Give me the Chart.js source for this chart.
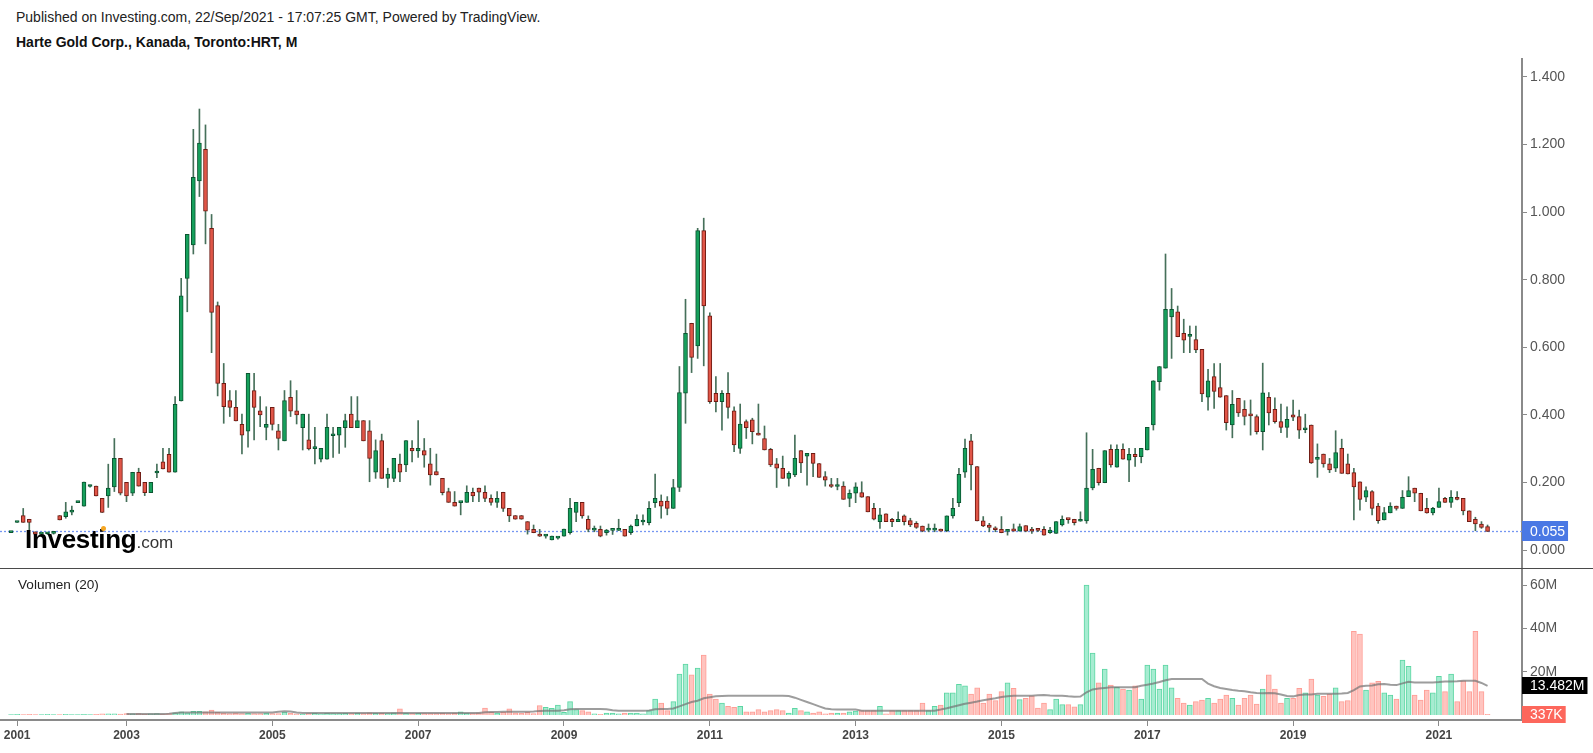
<!DOCTYPE html>
<html><head><meta charset="utf-8">
<script src="https://cdn.jsdelivr.net/npm/chart.js@4.4.0/dist/chart.umd.min.js"></script>
<style>
html,body{margin:0;padding:0;background:#fff;width:1593px;height:753px;overflow:hidden;font-family:"Liberation Sans",Arial,Helvetica,sans-serif;}
.abs{position:absolute;white-space:nowrap;}
#h1{left:16px;top:9px;font-size:14px;line-height:16px;color:#222;}
#h2{left:16px;top:34px;font-size:14px;line-height:16px;font-weight:bold;color:#111;}
#pwrap{position:absolute;left:0;top:58px;width:1593px;height:511px;}
#vwrap{position:absolute;left:0;top:569px;width:1593px;height:184px;}
#sep{position:absolute;left:0;top:568px;width:1593px;height:1px;background:#4a4a4a;}
#vlabel{left:18px;top:577px;font-size:13.6px;line-height:16px;color:#222;}
#logo{left:25px;top:526px;font-size:26px;line-height:26px;font-weight:bold;color:#000;letter-spacing:-0.3px;}
#logo span{font-size:17px;font-weight:normal;color:#333;letter-spacing:0;}
#dot{position:absolute;left:101px;top:526px;width:5px;height:5px;border-radius:50%;background:#f5a623;}
</style>
</head>
<body>
<div class="abs" id="h1">Published on Investing.com, 22/Sep/2021 - 17:07:25 GMT, Powered by TradingView.</div>
<div class="abs" id="h2">Harte Gold Corp., Kanada, Toronto:HRT, M</div>
<div id="pwrap"><canvas id="price" width="1593" height="511"></canvas></div>
<div id="vwrap"><canvas id="vol" width="1593" height="184"></canvas></div>
<div id="sep"></div>
<div class="abs" id="vlabel">Volumen (20)</div>
<div class="abs" id="logo">Investing<span>.com</span></div>
<div id="dot"></div>
<script>
// ---------- DATA ----------
const months = [
"2001-06","2001-07","2001-08","2001-09","2001-10","2001-11","2001-12",
"2002-01","2002-02","2002-03","2002-04","2002-05","2002-06","2002-07","2002-08","2002-09","2002-10","2002-11","2002-12",
"2003-01","2003-02","2003-03","2003-04","2003-05","2003-06","2003-07","2003-08","2003-09","2003-10","2003-11","2003-12",
"2004-01","2004-02","2004-03","2004-04","2004-05","2004-06","2004-07","2004-08","2004-09","2004-10","2004-11","2004-12",
"2005-01","2005-02","2005-03","2005-04","2005-05","2005-06","2005-07","2005-08","2005-09","2005-10","2005-11","2005-12",
"2006-01","2006-02","2006-03","2006-04","2006-05","2006-06","2006-07","2006-08","2006-09","2006-10","2006-11","2006-12",
"2007-01","2007-02","2007-03","2007-04","2007-05","2007-06","2007-07","2007-08","2007-09","2007-10","2007-11","2007-12",
"2008-01","2008-02","2008-03","2008-04","2008-05","2008-06","2008-07","2008-08","2008-09","2008-10","2008-11","2008-12",
"2009-01","2009-02","2009-03","2009-04","2009-05","2009-06","2009-07","2009-08","2009-09","2009-10","2009-11","2009-12",
"2010-01","2010-02","2010-03","2010-04","2010-05","2010-06","2010-07","2010-08","2010-09","2010-10","2010-11","2010-12",
"2011-01","2011-02","2011-03","2011-04","2011-05","2011-06","2011-07","2011-08","2011-09","2011-10","2011-11","2011-12",
"2012-01","2012-02","2012-03","2012-04","2012-05","2012-06","2012-07","2012-08","2012-09","2012-10","2012-11","2012-12",
"2013-01","2013-02","2013-03","2013-04","2013-05","2013-06","2013-07","2013-08","2013-09","2013-10","2013-11","2013-12",
"2014-01","2014-02","2014-03","2014-04","2014-05","2014-06","2014-07","2014-08","2014-09","2014-10","2014-11","2014-12",
"2015-01","2015-02","2015-03","2015-04","2015-05","2015-06","2015-07","2015-08","2015-09","2015-10","2015-11","2015-12",
"2016-01","2016-02","2016-03","2016-04","2016-05","2016-06","2016-07","2016-08","2016-09","2016-10","2016-11","2016-12",
"2017-01","2017-02","2017-03","2017-04","2017-05","2017-06","2017-07","2017-08","2017-09","2017-10","2017-11","2017-12",
"2018-01","2018-02","2018-03","2018-04","2018-05","2018-06","2018-07","2018-08","2018-09","2018-10","2018-11","2018-12",
"2019-01","2019-02","2019-03","2019-04","2019-05","2019-06","2019-07","2019-08","2019-09","2019-10","2019-11","2019-12",
"2020-01","2020-02","2020-03","2020-04","2020-05","2020-06","2020-07","2020-08","2020-09","2020-10","2020-11","2020-12",
"2021-01","2021-02","2021-03","2021-04","2021-05","2021-06","2021-07","2021-08","2021-09"
];

const open = [
.0515,.0815,.102,.091,.054,.047,.048,
.049,.102,.099,.112,.140,.130,.188,.189,.153,.160,.187,.271,
.200,.168,.230,.200,.170,.228,.261,.283,.230,.441,.804,.903,
1.092,1.186,.952,.723,.493,.442,.422,.372,.352,.472,.412,.363,
.422,.353,.323,.452,.412,.362,.326,.300,.269,.269,.338,.340,
.362,.402,.362,.383,.353,.230,.324,.212,.212,.254,.252,.301,
.293,.294,.255,.232,.212,.173,.141,.140,.141,.171,.183,.171,
.153,.141,.171,.123,.102,.102,.084,.061,.042,.041,.030,.035,
.041,.051,.111,.141,.091,.059,.061,.051,.058,.058,.061,.051,
.071,.083,.081,.140,.145,.145,.123,.185,.464,.671,.604,.945,
.693,.464,.439,.464,.412,.301,.380,.385,.345,.330,.298,.255,
.242,.212,.222,.294,.278,.286,.256,.217,.190,.188,.189,.153,
.168,.170,.158,.123,.084,.107,.091,.084,.101,.087,.079,.071,
.059,.059,.062,.057,.101,.140,.230,.323,.247,.086,.074,.062,
.061,.055,.063,.056,.072,.061,.059,.061,.051,.049,.074,.091,
.091,.085,.086,.184,.242,.199,.298,.245,.298,.266,.283,.276,
.296,.370,.498,.538,.690,.705,.641,.632,.623,.594,.452,.513,
.481,.457,.370,.449,.416,.402,.395,.350,.452,.416,.380,.363,
.400,.395,.356,.370,.268,.284,.255,.242,.301,.255,.229,.202,
.156,.173,.130,.089,.110,.130,.123,.158,.183,.168,.123,.110,
.126,.153,.141,.156,.153,.116,.091,.077,.069
];
const high = [
.0525,.0825,.123,.091,.054,.050,.052,
.053,.102,.141,.130,.142,.201,.192,.189,.153,.254,.330,.271,
.200,.230,.242,.200,.200,.254,.301,.301,.454,.804,.934,1.245,
1.305,1.258,.993,.734,.552,.472,.472,.402,.523,.523,.454,.424,
.422,.372,.472,.501,.472,.402,.402,.363,.301,.402,.363,.363,
.402,.454,.454,.383,.383,.326,.343,.242,.271,.284,.324,.324,
.383,.330,.301,.284,.212,.183,.173,.142,.190,.183,.183,.190,
.163,.173,.171,.123,.102,.102,.084,.074,.061,.045,.041,.038,
.062,.153,.141,.141,.101,.071,.071,.061,.059,.091,.061,.074,
.104,.104,.143,.225,.163,.158,.209,.543,.742,.671,.952,.982,
.702,.513,.472,.525,.424,.432,.385,.390,.432,.367,.301,.271,
.278,.232,.340,.294,.286,.286,.256,.232,.212,.212,.202,.178,
.199,.202,.158,.138,.123,.107,.094,.113,.104,.094,.084,.071,
.077,.077,.062,.101,.153,.242,.328,.342,.247,.099,.079,.069,
.099,.061,.077,.077,.072,.067,.061,.069,.067,.084,.101,.091,
.091,.113,.347,.298,.242,.294,.311,.311,.314,.301,.301,.301,
.363,.501,.543,.876,.774,.722,.683,.663,.663,.594,.535,.552,
.552,.457,.472,.449,.442,.444,.400,.553,.466,.450,.432,.424,
.444,.414,.402,.370,.314,.284,.271,.353,.328,.284,.242,.202,
.187,.176,.138,.126,.140,.130,.176,.217,.183,.168,.153,.126,
.183,.156,.176,.173,.153,.116,.097,.084,.074
];
const low = [
.0515,.0815,.082,.059,.044,.045,.046,
.047,.089,.094,.104,.140,.130,.186,.160,.111,.126,.173,.163,
.143,.161,.189,.161,.170,.214,.240,.230,.230,.441,.705,.876,
1.046,.906,.584,.456,.375,.395,.382,.284,.304,.326,.365,.326,
.355,.296,.323,.395,.373,.296,.296,.255,.261,.269,.274,.286,
.304,.362,.362,.323,.202,.212,.212,.185,.202,.202,.232,.261,
.274,.245,.192,.222,.163,.141,.130,.104,.141,.143,.143,.143,
.133,.126,.114,.084,.091,.091,.047,.051,.040,.035,.030,.032,
.041,.047,.084,.094,.054,.054,.039,.044,.046,.058,.041,.046,
.071,.074,.074,.126,.094,.104,.123,.173,.375,.525,.567,.545,
.434,.409,.355,.390,.291,.286,.330,.314,.340,.296,.247,.185,
.212,.189,.217,.229,.192,.217,.215,.189,.185,.178,.150,.128,
.140,.156,.113,.089,.064,.084,.069,.084,.074,.069,.064,.054,
.054,.054,.056,.054,.094,.128,.215,.178,.086,.069,.054,.054,
.051,.044,.056,.056,.054,.049,.054,.044,.049,.049,.071,.079,
.074,.085,.079,.178,.192,.199,.245,.245,.269,.202,.247,.258,
.296,.355,.473,.538,.567,.631,.584,.584,.584,.439,.414,.419,
.452,.355,.332,.395,.370,.340,.343,.296,.370,.375,.347,.333,
.383,.330,.347,.256,.215,.245,.229,.232,.227,.225,.089,.118,
.143,.104,.079,.089,.110,.118,.123,.158,.143,.116,.109,.104,
.126,.141,.126,.148,.104,.084,.057,.064,.055
];
const close = [
.0525,.0825,.082,.082,.047,.048,.050,
.052,.089,.113,.114,.142,.201,.190,.160,.111,.183,.271,.168,
.160,.230,.189,.170,.200,.232,.240,.230,.431,.752,.934,1.103,
1.204,1.003,.703,.493,.424,.422,.382,.340,.523,.422,.400,.372,
.372,.330,.442,.411,.400,.402,.299,.301,.301,.363,.342,.363,
.383,.362,.383,.323,.271,.294,.212,.225,.271,.230,.324,.293,
.301,.281,.222,.222,.170,.141,.130,.142,.171,.160,.171,.153,
.141,.153,.123,.101,.091,.091,.059,.051,.041,.042,.041,.036,
.062,.123,.141,.101,.061,.060,.041,.059,.059,.060,.041,.071,
.091,.085,.123,.153,.130,.123,.185,.466,.641,.570,.945,.722,
.439,.439,.464,.422,.311,.373,.362,.350,.340,.296,.252,.242,
.212,.227,.271,.258,.286,.256,.215,.207,.188,.190,.150,.168,
.187,.156,.113,.091,.104,.084,.084,.091,.084,.074,.067,.056,
.060,.060,.056,.101,.123,.224,.301,.252,.086,.071,.067,.060,
.051,.057,.056,.069,.056,.056,.058,.044,.059,.084,.091,.090,
.081,.086,.183,.239,.199,.294,.252,.298,.269,.283,.276,.301,
.363,.501,.543,.712,.712,.631,.621,.634,.592,.462,.501,.469,
.452,.377,.431,.406,.395,.397,.350,.465,.406,.380,.363,.387,
.393,.355,.358,.258,.270,.255,.237,.288,.227,.225,.187,.150,
.176,.123,.087,.111,.130,.123,.156,.176,.168,.116,.110,.123,
.143,.141,.156,.150,.116,.084,.077,.067,.055
];
// volume in millions
const volume = [
.2,.3,.2,.3,.2,.2,.3,
.2,.2,.3,.2,.2,.3,.2,.3,.5,.5,.5,.4,
.6,.5,.7,.4,.5,.6,.4,.6,1.0,1.5,1.0,1.7,
1.7,1.5,2.3,1.2,.8,.7,.9,.6,.8,.7,.6,.9,
.7,.6,1.4,.8,.5,.3,.7,.9,.5,.8,.6,.7,
.8,.6,.9,.7,1.0,.8,.9,.6,1.0,2.8,.9,.7,
.8,.6,.7,.6,.8,.7,.9,1.5,.8,.7,1.0,3.2,
1.2,.9,1.2,2.8,1.0,.8,1.2,.6,4.3,3.5,3.1,4.6,
1.2,6.2,2.5,2.0,1.5,.5,.3,.9,.9,.5,.9,.9,
.9,.5,2.0,7.4,5.5,2.0,6.2,18.9,23.5,18.5,21.7,27.7,
9.7,7.4,5.5,4.0,3.5,4.0,1.5,1.5,2.5,1.5,2.0,2.5,
2.0,.9,3.1,2.0,1.5,.9,1.5,.5,.9,.9,.9,1.5,
1.8,2.0,2.0,2.0,4.0,.5,2.0,2.0,2.0,2.0,2.0,5.5,
2.0,4.0,4.6,10.2,10.2,14.2,13.5,9.7,12.5,5.5,9.7,6.6,
10.8,14.8,12.3,7.1,7.7,8.9,3.2,5.5,2.5,7.4,4.8,4.8,
3.8,4.8,60.0,28.6,14.8,21.2,13.8,12.8,12.0,11.5,13.5,7.4,
23.0,21.2,12.0,23.0,12.5,7.7,5.5,4.6,6.2,6.9,7.7,5.5,
7.4,9.2,7.7,4.6,7.7,9.2,5.0,12.0,18.5,12.0,5.5,7.7,
7.7,12.3,10.2,16.6,9.2,8.6,9.7,12.5,6.2,6.6,38.6,37.4,
11.5,14.8,15.5,10.2,9.2,7.4,25.4,22.5,9.2,6.9,11.5,10.2,
17.8,10.8,18.9,6.2,15.8,10.8,38.6,10.8,0.337
];
// 20-period volume average (millions)
const volumeMA = [
null,null,null,null,null,null,null,
null,null,null,null,null,null,null,null,null,null,null,null,
.5,.5,.5,.5,.5,.5,.5,.6,.9,1.2,1.2,1.2,
1.2,1.2,1.2,1.2,1.2,1.2,1.2,1.1,1.1,1.1,1.1,1.1,
1.2,1.5,1.7,1.6,1.2,.9,.9,.9,.9,.9,.9,.9,
.9,.9,.9,.9,.9,.9,.9,.9,.9,.9,.9,.9,
.9,.9,.9,.9,.9,.9,.9,.9,.9,.9,.9,1.3,
1.4,1.4,1.5,1.5,1.5,1.5,1.5,1.6,1.9,2.0,2.0,2.0,
2.2,2.6,2.8,2.8,2.8,2.8,2.8,2.7,2.2,2.0,2.0,2.0,
2.0,2.0,2.1,2.6,2.8,2.8,3.0,4.0,5.0,6.0,6.6,7.7,
8.2,8.6,8.8,8.9,8.9,8.9,8.9,8.9,8.9,8.9,8.9,8.9,
8.9,8.8,8.0,7.0,6.0,5.0,4.0,3.0,2.6,2.5,2.5,2.5,
2.5,2.0,2.0,2.0,2.0,2.0,2.0,2.0,2.0,2.0,2.0,2.0,
2.0,2.0,2.5,3.1,3.8,4.5,5.2,5.7,6.2,6.8,7.3,7.7,
8.3,8.6,8.9,8.9,8.9,8.9,9.1,9.2,9.0,8.9,8.9,8.6,
8.4,8.5,10.5,11.8,12.2,12.5,12.8,12.8,12.8,12.8,12.8,13.5,
14.0,14.5,15.2,16.0,16.6,16.6,16.6,16.6,16.6,16.6,14.5,13.3,
12.5,12.0,11.5,11.2,11.0,10.5,10.2,10.0,10.2,10.0,9.5,8.8,
8.6,9.2,9.5,9.5,9.8,9.8,9.8,9.8,9.9,10.2,11.5,13.2,
13.5,13.6,14.2,14.3,14.0,13.8,14.6,15.3,15.0,15.0,15.0,15.0,
15.2,15.5,15.5,15.6,15.8,15.8,15.8,14.8,13.482
];

const priceTicks = [0, 0.2, 0.4, 0.6, 0.8, 1.0, 1.2, 1.4];
const priceTickLabels = ["0.000","0.200","0.400","0.600","0.800","1.000","1.200","1.400"];
const volTicks = [20, 40, 60];
const volTickLabels = ["20M","40M","60M"];
const yearTickMonths = ["2001-07","2003-01","2005-01","2007-01","2009-01","2011-01","2013-01","2015-01","2017-01","2019-01","2021-01"];
const yearLabels = ["2001","2003","2005","2007","2009","2011","2013","2015","2017","2019","2021"];
const lastPriceLabel = "0.055";
const lastVolumeLabel = "337K";
const lastMALabel = "13.482M";

// ---------- BUILD ----------
Chart.defaults.font.family = "'Liberation Sans', Arial, Helvetica, sans-serif";
const toIdx = s => { const p = s.split('-').map(Number); return (p[0]-2001)*12 + (p[1]-1); };
const mIdx = months.map(toIdx);
const X_MIN = 3.18, X_MAX = 253.67;
const up = open.map((o,i) => close[i] >= o);
const lastClose = close[close.length-1];
const lastVol = volume[volume.length-1];
const lastMA = volumeMA[volumeMA.length-1];

function tag(ctx, x, y, h, bg, text){
  ctx.save();
  ctx.font = "14px 'Liberation Sans', Arial, sans-serif";
  const w = ctx.measureText(text).width + 11;
  ctx.fillStyle = bg;
  ctx.fillRect(x, Math.round(y - h/2), w, h);
  ctx.fillStyle = '#fff';
  ctx.textBaseline = 'middle';
  ctx.textAlign = 'left';
  ctx.fillText(text, x + 8, y + 0.5);
  ctx.restore();
}

const pricePlugin = {
  id: 'priceExtras',
  beforeDatasetsDraw(chart){
    const ctx = chart.ctx, a = chart.chartArea;
    const y = Math.round(chart.scales.y.getPixelForValue(lastClose)) + 0.5;
    ctx.save();
    ctx.strokeStyle = '#7596f2';
    ctx.lineWidth = 1.3;
    ctx.setLineDash([2,2]);
    ctx.beginPath(); ctx.moveTo(a.left, y); ctx.lineTo(a.right, y); ctx.stroke();
    ctx.restore();
  },
  afterDraw(chart){
    const y = chart.scales.y.getPixelForValue(lastClose);
    tag(chart.ctx, chart.chartArea.right, y, 20, '#4a78e4', lastPriceLabel);
  }
};
const volPlugin = {
  id: 'volExtras',
  afterDraw(chart){
    const s = chart.scales.y;
    tag(chart.ctx, chart.chartArea.right, s.getPixelForValue(lastMA), 17, '#000', lastMALabel);
    tag(chart.ctx, chart.chartArea.right, s.getPixelForValue(lastVol), 17, '#fd675c', lastVolumeLabel);
  }
};

new Chart(document.getElementById('price'), {
  type: 'bar',
  data: { datasets: [
    { data: mIdx.map((m,i)=>({x:m, y:[Math.min(open[i],close[i]), Math.max(open[i],close[i])]})),
      backgroundColor: up.map(u => u ? '#16a05c' : '#e05547'),
      borderColor: up.map(u => u ? '#0b5430' : '#6f1b13'),
      borderWidth: 1, borderSkipped: false, barThickness: 4, minBarLength: 2, grouped: false },
    { data: mIdx.map((m,i)=>({x:m, y:[low[i], high[i]]})),
      backgroundColor: '#46705a', borderWidth: 0, barThickness: 1, minBarLength: 1, grouped: false }
  ]},
  options: {
    responsive: false, animation: false, events: [],
    layout: { padding: 0 },
    plugins: { legend: {display:false}, tooltip: {enabled:false} },
    scales: {
      x: { type:'linear', min:X_MIN, max:X_MAX, display:false, offset:false, grid:{offset:false} },
      y: { position:'right', min:-0.0562, max:1.456,
        afterBuildTicks: s => { s.ticks = priceTicks.map(v => ({value:v})); },
        afterFit: s => { s.width = 71; s.paddingTop = 0; s.paddingBottom = 0; },
        ticks: { callback: (v,i) => priceTickLabels[i], color:'#555', font:{size:14}, padding:3 },
        grid: { drawOnChartArea:false, drawTicks:true, tickLength:5, color:'#8a8a8a' },
        border: { display:true, color:'#8a8a8a', width:2 } }
    }
  },
  plugins: [pricePlugin]
});

new Chart(document.getElementById('vol'), {
  type: 'bar',
  data: { datasets: [
    { type:'line', data: mIdx.map((m,i)=>({x:m, y:volumeMA[i]})),
      borderColor:'rgba(115,115,115,0.7)', borderWidth:2, pointRadius:0, tension:0, order:0, spanGaps:false },
    { type:'bar', data: mIdx.map((m,i)=>({x:m, y:volume[i]})),
      backgroundColor: up.map(u => u ? '#a6ecd1' : '#ffc4bf'),
      borderColor: up.map(u => u ? '#5cd6a3' : '#ff9e96'),
      borderWidth: 1, barThickness: 5, order: 1, grouped: false }
  ]},
  options: {
    responsive: false, animation: false, events: [],
    layout: { padding: 0 },
    plugins: { legend: {display:false}, tooltip: {enabled:false} },
    scales: {
      x: { type:'linear', min:X_MIN, max:X_MAX, offset:false,
        afterBuildTicks: s => { s.ticks = yearTickMonths.map(t => ({value: toIdx(t)})); },
        afterFit: s => { s.height = 33; s.paddingLeft = 0; s.paddingRight = 0; },
        ticks: { callback: (v,i) => yearLabels[i], color:'#444', font:{size:12, weight:'bold'}, maxRotation:0, autoSkip:false, padding:2 },
        grid: { offset:false, drawOnChartArea:false, drawTicks:true, tickLength:6, color:'#8a8a8a' },
        border: { display:true, color:'#8a8a8a', width:2 } },
      y: { position:'right', min:-2.31, max:67.4,
        afterBuildTicks: s => { s.ticks = volTicks.map(v => ({value:v})); },
        afterFit: s => { s.width = 71; s.paddingTop = 0; s.paddingBottom = 0; },
        ticks: { callback: (v,i) => volTickLabels[i], color:'#555', font:{size:14}, padding:3 },
        grid: { drawOnChartArea:false, drawTicks:true, tickLength:5, color:'#8a8a8a' },
        border: { display:true, color:'#8a8a8a', width:2 } }
    }
  },
  plugins: [volPlugin]
});
</script>
</body></html>
